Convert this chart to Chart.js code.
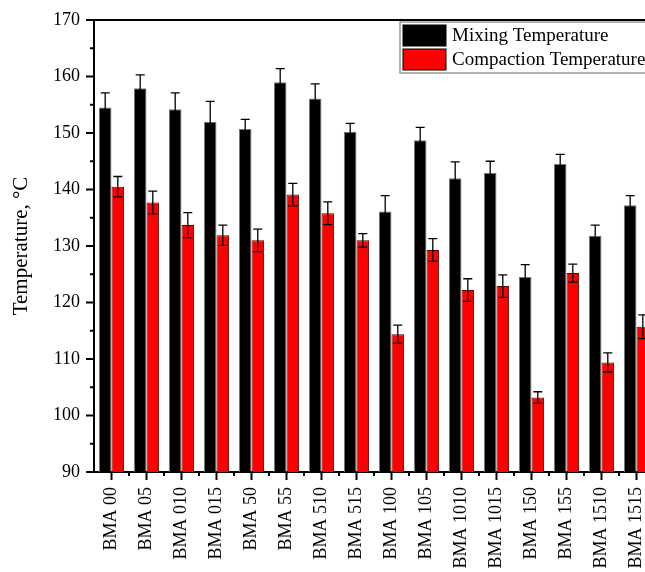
<!DOCTYPE html>
<html>
<head>
<meta charset="utf-8">
<script src="https://cdn.jsdelivr.net/npm/chart.js@4.4.1/dist/chart.umd.min.js"></script>
<style>
html, body { margin: 0; padding: 0; background: #fff; overflow: hidden; width: 645px; height: 572px; }
canvas { display: block; }
</style>
</head>
<body>
<canvas id="tempChart" width="660" height="600"></canvas>
<script>
// Data
const categories = ['BMA 00', 'BMA 05', 'BMA 010', 'BMA 015', 'BMA 50', 'BMA 55', 'BMA 510', 'BMA 515',
    'BMA 100', 'BMA 105', 'BMA 1010', 'BMA 1015', 'BMA 150', 'BMA 155', 'BMA 1510', 'BMA 1515'];
const mixingTemp = [154.5, 157.9, 154.2, 152.0, 150.7, 159.0, 156.1, 150.2, 136.1, 148.7, 142.0, 142.9, 124.5, 144.5, 131.8, 137.2];
const mixingErr = [2.6, 2.4, 2.9, 3.6, 1.7, 2.4, 2.6, 1.5, 2.8, 2.3, 2.9, 2.1, 2.2, 1.7, 1.9, 1.7];
const compactionTemp = [140.5, 137.7, 133.7, 131.9, 131.0, 139.1, 135.8, 131.0, 114.4, 129.3, 122.2, 122.9, 103.2, 125.2, 109.4, 115.7];
const compactionErr = [1.8, 2.0, 2.2, 1.8, 2.0, 2.0, 2.0, 1.2, 1.6, 2.0, 2.0, 2.0, 1.0, 1.6, 1.7, 2.1];
const yTicks = [90, 100, 110, 120, 130, 140, 150, 160, 170];

const serif = "'Liberation Serif', 'Times New Roman', serif";

// Error bars (symmetric, with caps)
const errorBarPlugin = {
    id: 'errorBars',
    afterDatasetsDraw(chart) {
        const ctx = chart.ctx;
        const y = chart.scales.y;
        ctx.save();
        ctx.strokeStyle = '#000';
        ctx.lineWidth = 1.3;
        chart.data.datasets.forEach((ds, i) => {
            const meta = chart.getDatasetMeta(i);
            meta.data.forEach((bar, j) => {
                const v = ds.data[j], e = ds.errors[j];
                const top = y.getPixelForValue(v + e);
                const bot = y.getPixelForValue(v - e);
                const cap = 4.5;
                ctx.beginPath();
                ctx.moveTo(bar.x, top); ctx.lineTo(bar.x, bot);
                ctx.moveTo(bar.x - cap, top); ctx.lineTo(bar.x + cap, top);
                ctx.moveTo(bar.x - cap, bot); ctx.lineTo(bar.x + cap, bot);
                ctx.stroke();
            });
        });
        ctx.restore();
    }
};

// Frame top line, major/minor ticks, legend box
const framePlugin = {
    id: 'frame',
    afterDraw(chart) {
        const ctx = chart.ctx;
        const area = chart.chartArea;
        const x = chart.scales.x, y = chart.scales.y;
        ctx.save();
        ctx.strokeStyle = '#000';
        ctx.lineWidth = 2;
        ctx.beginPath();
        ctx.moveTo(area.left - 1, area.top);
        ctx.lineTo(area.right, area.top);
        ctx.stroke();

        // y ticks every 5, long at tens
        for (let v = y.min; v <= y.max; v += 5) {
            const py = y.getPixelForValue(v);
            const len = v % 10 === 0 ? 8 : 4;
            ctx.beginPath();
            ctx.moveTo(area.left - len, py);
            ctx.lineTo(area.left, py);
            ctx.stroke();
        }
        // x ticks: long at category centers, short at boundaries
        for (let i = 0; i < categories.length; i++) {
            const px = x.getPixelForValue(i);
            ctx.beginPath();
            ctx.moveTo(px, area.bottom);
            ctx.lineTo(px, area.bottom + 8);
            ctx.stroke();
            const pb = x.getPixelForValue(i + 0.5);
            ctx.beginPath();
            ctx.moveTo(pb, area.bottom);
            ctx.lineTo(pb, area.bottom + 4);
            ctx.stroke();
        }

        // legend
        const lx = area.left + 306, ly = area.top + 2;
        ctx.fillStyle = '#fff';
        ctx.fillRect(lx, ly, 330, 51);
        ctx.strokeStyle = '#999';
        ctx.lineWidth = 1.5;
        ctx.strokeRect(lx, ly, 330, 51);
        ctx.font = '19px ' + serif;
        ctx.textBaseline = 'middle';
        chart.data.datasets.forEach((ds, i) => {
            const sy = ly + 3 + i * 24;
            ctx.fillStyle = ds.backgroundColor;
            ctx.fillRect(lx + 3, sy, 43, 21);
            ctx.strokeStyle = '#000';
            ctx.lineWidth = 1;
            ctx.strokeRect(lx + 3, sy, 43, 21);
            ctx.fillStyle = '#000';
            ctx.fillText(ds.label, lx + 52, sy + 11);
        });
        ctx.restore();
    }
};

new Chart(document.getElementById('tempChart'), {
    type: 'bar',
    data: {
        labels: categories,
        datasets: [{
            label: 'Mixing Temperature',
            data: mixingTemp,
            errors: mixingErr,
            backgroundColor: '#000000',
            borderColor: '#777777',
            borderWidth: 1
        }, {
            label: 'Compaction Temperature',
            data: compactionTemp,
            errors: compactionErr,
            backgroundColor: '#ff0000',
            borderColor: '#5a0000',
            borderWidth: 1
        }]
    },
    options: {
        responsive: false,
        animation: false,
        devicePixelRatio: 1,
        layout: { padding: { top: 20, right: 6, left: 0, bottom: 0 } },
        datasets: {
            bar: { categoryPercentage: 0.72, barPercentage: 1.0 }
        },
        plugins: {
            legend: { display: false },
            tooltip: { enabled: false }
        },
        scales: {
            x: {
                grid: { display: false, drawTicks: false },
                border: { display: true, color: '#000', width: 2 },
                ticks: {
                    color: '#000',
                    font: { family: serif, size: 18 },
                    minRotation: 90,
                    maxRotation: 90,
                    padding: 15,
                    autoSkip: false
                },
                afterFit: function(scale) {
                    scale.height = 128;
                    scale.paddingLeft = 0;
                    scale.paddingRight = 0;
                }
            },
            y: {
                min: 90,
                max: 170,
                grid: { display: false, drawTicks: false },
                border: { display: true, color: '#000', width: 2 },
                ticks: {
                    color: '#000',
                    font: { family: serif, size: 18 },
                    padding: 14
                },
                afterBuildTicks: function(scale) {
                    scale.ticks = yTicks.map(v => ({ value: v }));
                },
                title: {
                    display: true,
                    text: 'Temperature, °C',
                    color: '#000',
                    font: { family: serif, size: 21 },
                    padding: { top: 9, bottom: 0 }
                },
                afterFit: function(scale) {
                    scale.width = 94;
                    scale.paddingTop = 0;
                    scale.paddingBottom = 0;
                }
            }
        }
    },
    plugins: [errorBarPlugin, framePlugin]
});
</script>
</body>
</html>
